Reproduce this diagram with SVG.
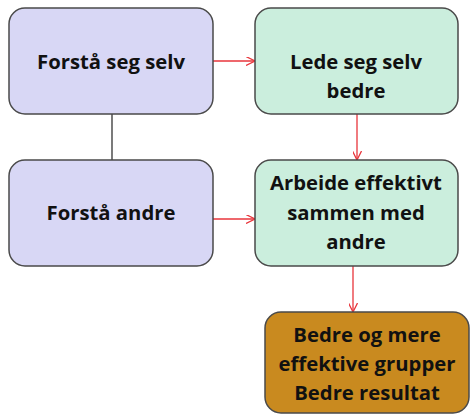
<svg xmlns="http://www.w3.org/2000/svg" width="470" height="415" viewBox="0 0 470 415">
<style>
.box{stroke:#4a4a4a;stroke-width:1.5}
.p{fill:#d8d7f5}
.g{fill:#cbeedd}
.o{fill:#c98a1f}
text{font-family:"Open Sans","Liberation Sans",sans-serif;font-weight:bold;font-size:20.3px;fill:#111;text-anchor:middle}
.red{stroke:#e8353b;stroke-width:1.3;fill:none}
</style>
<defs>
<marker id="ah" viewBox="0 0 10 10" refX="10" refY="5" markerWidth="9" markerHeight="9" markerUnits="userSpaceOnUse" orient="auto">
<path d="M0,0 L10,5 L0,10" fill="none" stroke="#e8353b" stroke-width="1.4"/>
</marker>
</defs>
<rect width="470" height="415" fill="#fff"/>
<g id="connectors">
<line x1="112" y1="114" x2="112" y2="160" stroke="#333" stroke-width="1.3"/>
<line class="red" x1="213" y1="61" x2="255" y2="61" marker-end="url(#ah)"/>
<line class="red" x1="357" y1="114" x2="357" y2="160" marker-end="url(#ah)"/>
<line class="red" x1="213" y1="219" x2="255" y2="219" marker-end="url(#ah)"/>
<line class="red" x1="353" y1="266" x2="353" y2="312" marker-end="url(#ah)"/>
</g>
<g id="n1"><rect class="box p" x="9" y="8" width="204" height="106" rx="16"/><text x="111" y="69">Forstå seg selv</text></g>
<g id="n2"><rect class="box g" x="255" y="8" width="203" height="106" rx="16"/><text x="356" y="69">Lede seg selv</text><text x="356" y="98">bedre</text></g>
<g id="n3"><rect class="box p" x="9" y="160" width="204" height="106" rx="16"/><text x="111" y="220">Forstå andre</text></g>
<g id="n4"><rect class="box g" x="255" y="160" width="203" height="106" rx="16"/><text x="356" y="190">Arbeide effektivt</text><text x="356" y="220">sammen med</text><text x="356" y="249">andre</text></g>
<g id="n5"><rect class="box o" x="265" y="312" width="204" height="101" rx="16"/><text x="367" y="342">Bedre og mere</text><text x="367" y="371">effektive grupper</text><text x="367" y="400">Bedre resultat</text></g>
</svg>
